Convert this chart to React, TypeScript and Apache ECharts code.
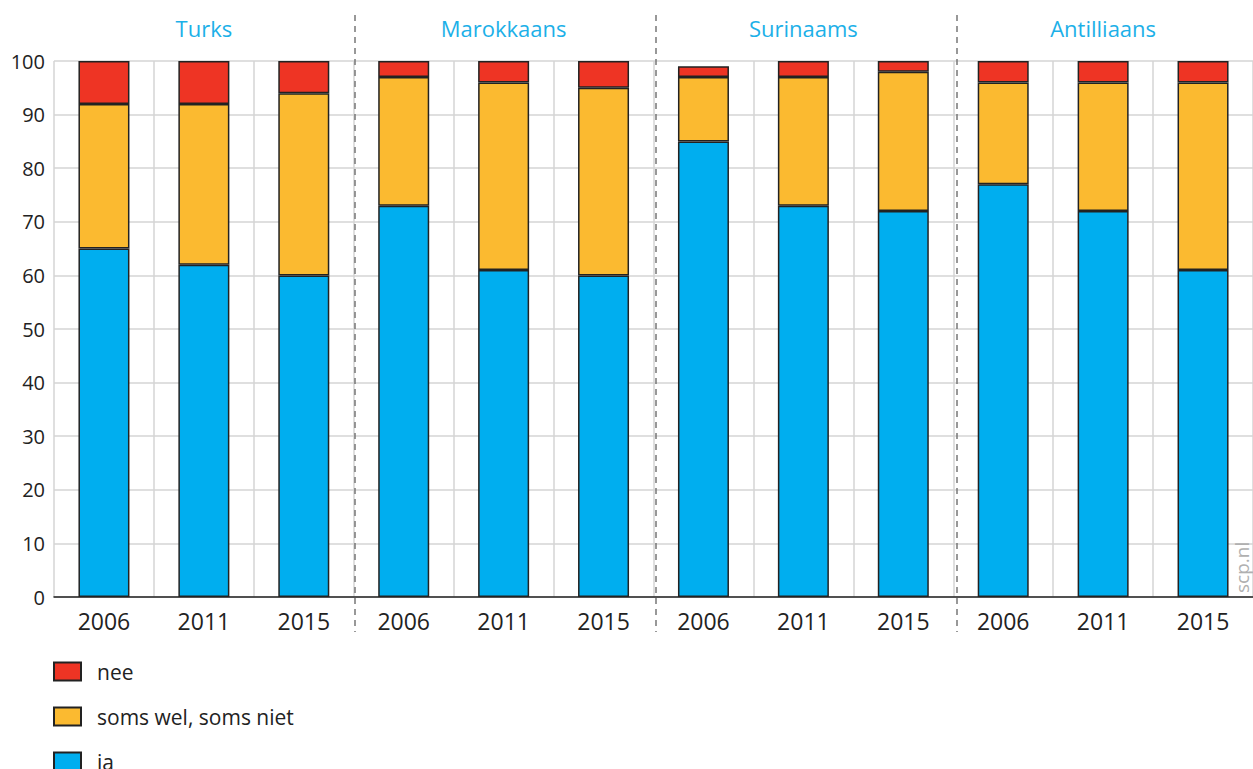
import React, { useEffect, useRef } from "react";
import * as echarts from "echarts";

const groups = ["Turks", "Marokkaans", "Surinaams", "Antilliaans"];
const years = ["2006", "2011", "2015"];
const categories = groups.flatMap((g) => years.map((y) => `${g} ${y}`));
const ja = [65, 62, 60, 73, 61, 60, 85, 73, 72, 77, 72, 61];
const soms = [27, 30, 34, 24, 35, 35, 12, 24, 26, 19, 24, 35];
const nee = [8, 8, 6, 3, 4, 5, 2, 3, 2, 4, 4, 4];
const yTicks = { min: 0, max: 100, interval: 10 };

const GRID_LEFT = 54;
const GRID_WIDTH = 1204;
const GRID_TOP = 61;
const GRID_BOTTOM_Y = 597;
const FONT = "'Open Sans', 'Noto Sans', sans-serif";

export default function App() {
  const ref = useRef<HTMLDivElement>(null);
  useEffect(() => {
    if (!ref.current) return;
    const chart = echarts.init(ref.current, null, { renderer: "svg" });
    const catW = GRID_WIDTH / categories.length;
    const sepLines = [1, 2, 3].map((k) => ({
      type: "line",
      shape: {
        x1: GRID_LEFT + k * years.length * catW,
        y1: 15,
        x2: GRID_LEFT + k * years.length * catW,
        y2: 632,
      },
      style: { stroke: "#777", lineWidth: 1.5, lineDash: [6, 5] },
      z: 10,
    }));
    const border = { borderColor: "#222", borderWidth: 1.5 };
    chart.setOption({
      animation: false,
      grid: {
        left: GRID_LEFT,
        top: GRID_TOP,
        width: GRID_WIDTH,
        height: GRID_BOTTOM_Y - GRID_TOP,
        containLabel: false,
      },
      legend: {
        orient: "vertical",
        left: 53,
        top: 661,
        height: 200,
        padding: 0,
        itemWidth: 27,
        itemHeight: 18,
        itemGap: 24,
        icon: "rect",
        data: ["nee", "soms wel, soms niet", "ja"],
        textStyle: { fontSize: 21, color: "#222", fontFamily: FONT, padding: [0, 0, 0, 11] },
      },
      xAxis: [
        {
          type: "category",
          data: categories,
          axisLine: { lineStyle: { color: "#222", width: 1.5 } },
          axisTick: { alignWithLabel: true, length: 10, lineStyle: { color: "#222", width: 1.5 } },
          axisLabel: {
            formatter: (v: string) => v.split(" ")[1],
            fontSize: 23,
            color: "#222",
            fontFamily: FONT,
            margin: 12,
          },
          splitLine: { show: true, lineStyle: { color: "#d4d4d4", width: 1.5 } },
        },
        {
          type: "category",
          position: "top",
          data: groups,
          axisLine: { show: false },
          axisTick: { show: false },
          splitLine: { show: false },
          axisLabel: { fontSize: 22, color: "#1cb0e8", fontFamily: FONT, margin: 22 },
        },
      ],
      yAxis: {
        type: "value",
        ...yTicks,
        axisLine: { show: false },
        axisTick: { show: false },
        axisLabel: { fontSize: 20, color: "#222", fontFamily: FONT, margin: 9 },
        splitLine: { lineStyle: { color: "#d4d4d4", width: 1.5 } },
      },
      series: [
        {
          name: "ja",
          type: "bar",
          stack: "s",
          data: ja,
          barWidth: 51,
          itemStyle: { color: "#00aeef", ...border },
        },
        {
          name: "soms wel, soms niet",
          type: "bar",
          stack: "s",
          data: soms,
          itemStyle: { color: "#fbba30", ...border },
        },
        {
          name: "nee",
          type: "bar",
          stack: "s",
          data: nee,
          itemStyle: { color: "#ee3424", ...border },
        },
      ],
      graphic: [
        ...sepLines,
        {
          type: "text",
          x: 1232,
          y: 593,
          rotation: Math.PI / 2,
          style: { text: "scp.nl", fontSize: 19, fill: "#b0b0b0", fontFamily: FONT },
          z: 10,
        },
      ],
    });
    return () => chart.dispose();
  }, []);
  return (
    <div
      ref={ref}
      style={{ position: "fixed", left: 0, top: 0, width: 1253, height: 769, background: "#fff" }}
    />
  );
}
